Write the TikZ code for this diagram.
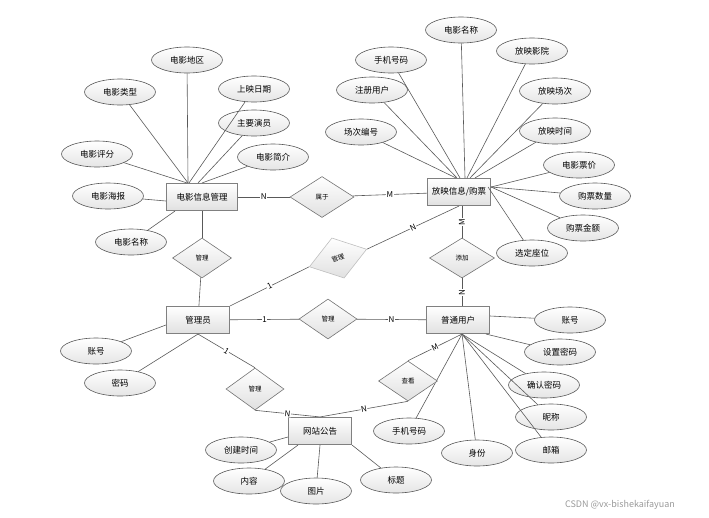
\documentclass[tikz,border=0pt]{standalone}
\usepackage{fontspec}
\newfontfamily\cjk{Noto Sans CJK SC}
\usetikzlibrary{
  shapes.geometric
}

\begin{document}
\begin{tikzpicture}[
  x=1pt, y=-1pt,
  font=\cjk\fontsize{8.5}{10}\selectfont,
  entity/.style={
    rectangle, draw=black!50, line width=1.1pt,
    top color=white, bottom color=black!12,
    minimum width=63pt, minimum height=27pt, inner sep=0pt
  },
  attr/.style={
    ellipse, draw=black!65, line width=0.6pt,
    top color=white, bottom color=black!10,
    minimum width=71pt, minimum height=26pt, inner sep=0pt
  },
  rel/.style={
    diamond, draw=black!55, line width=0.6pt,
    top color=white, bottom color=black!12,
    minimum width=59pt, minimum height=40pt, inner sep=0pt,
    font=\cjk\fontsize{6.5}{8}\selectfont
  },
  link/.style={draw=black!65, line width=0.6pt},
  card/.style={fill=white, inner sep=0.6pt, font=\cjk\fontsize{8}{9}\selectfont},
]
\useasboundingbox (0,0) rectangle (709,517);

% Movie info entity
\node[entity, minimum width=71pt] (film) at (202,197) {电影信息管理};
\node[attr] (f_area)   at (187,60)  {电影地区};
\node[attr] (f_type)   at (120,92)  {电影类型};
\node[attr] (f_date)   at (254,89)  {上映日期};
\node[attr] (f_cast)   at (254,123) {主要演员};
\node[attr] (f_score)  at (97,154)  {电影评分};
\node[attr] (f_intro)  at (273,157) {电影简介};
\node[attr] (f_poster) at (108,196) {电影海报};
\node[attr] (f_name)   at (131,242) {电影名称};
\draw[link] (f_area)   -- ([xshift=-14pt]film.north);
\draw[link] (f_type)   -- ([xshift=-14pt]film.north);
\draw[link] (f_date)   -- ([xshift=-13pt]film.north);
\draw[link] (f_score)  -- ([xshift=-15pt]film.north);
\draw[link] (f_cast)   -- ([xshift=-4pt]film.north);
\draw[link] (f_intro)  -- (film.north);
\draw[link] (f_poster) -- ([yshift=-4pt]film.west);
\draw[link] (f_name)   -- ([xshift=-27pt]film.south);

% Screening / ticket entity
\node[entity] (info) at (459,192) {放映信息/购票};
\node[attr] (i_name)   at (461,30)  {电影名称};
\node[attr] (i_phone)  at (391,60)  {手机号码};
\node[attr] (i_cinema) at (532,51)  {放映影院};
\node[attr] (i_user)   at (372,90)  {注册用户};
\node[attr] (i_show)   at (555,91)  {放映场次};
\node[attr] (i_no)     at (361,132) {场次编号};
\node[attr] (i_time)   at (555,131) {放映时间};
\node[attr] (i_price)  at (579,165) {电影票价};
\node[attr] (i_count)  at (595,196) {购票数量};
\node[attr] (i_amount) at (583,228) {购票金额};
\node[attr] (i_seat)   at (532,253) {选定座位};
\draw[link] (i_no)     -- ([xshift=-3pt]info.north);
\draw[link] (i_user)   -- ([xshift=-2pt]info.north);
\draw[link] (i_phone)  -- ([xshift=1pt]info.north);
\draw[link] (i_name)   -- ([xshift=6pt]info.north);
\draw[link] (i_cinema) -- ([xshift=8pt]info.north);
\draw[link] (i_show)   -- ([xshift=11pt]info.north);
\draw[link] (i_time)   -- ([xshift=16pt]info.north);
\draw[link] (i_price)  -- ([yshift=5pt]info.east);
\draw[link] (i_count)  -- ([yshift=5pt]info.east);
\draw[link] (i_amount) -- ([yshift=5pt]info.east);
\draw[link] (i_seat)   -- ([xshift=-3pt,yshift=5pt]info.east);

% Admin entity
\node[entity] (admin) at (198,320) {管理员};
\node[attr] (a_acc) at (96,351)  {账号};
\node[attr] (a_pwd) at (120,383) {密码};
\draw[link] (a_acc) -- ([yshift=-5pt]admin.west);
\draw[link] (a_pwd) -- (admin.south);

% User entity
\node[entity] (user) at (458,320) {普通用户};
\node[attr] (u_acc)     at (570,320) {账号};
\node[attr] (u_set)     at (560,352) {设置密码};
\node[attr] (u_confirm) at (544,385) {确认密码};
\node[attr] (u_nick)    at (551,417) {昵称};
\node[attr] (u_mail)    at (551,450) {邮箱};
\node[attr] (u_id)      at (477,453) {身份};
\node[attr] (u_phone)   at (409,431) {手机号码};
\draw[link] (u_acc)     -- ([yshift=4pt]user.east);
\draw[link] (u_set)     -- ([xshift=28pt]user.south);
\draw[link] (u_confirm) -- ([xshift=4pt]user.south);
\draw[link] (u_nick)    -- ([xshift=4pt]user.south);
\draw[link] (u_mail)    -- ([xshift=4pt]user.south);
\draw[link] (u_id)      -- ([xshift=4pt]user.south);
\draw[link] (u_phone)   -- ([xshift=4pt]user.south);

% Notice entity
\node[entity] (notice) at (320,431) {网站公告};
\node[attr] (n_time)  at (241,450) {创建时间};
\node[attr] (n_text)  at (249,481) {内容};
\node[attr] (n_pic)   at (316,491) {图片};
\node[attr] (n_title) at (396,480) {标题};
\draw[link] (n_time)  -- ([yshift=-6pt]notice.west);
\draw[link] (n_text)  -- ([xshift=-22pt]notice.south);
\draw[link] (n_pic)   -- (notice.south);
\draw[link] (n_title) -- (notice.south east);

% Relations
\node[rel, minimum width=64pt, minimum height=41pt] (belong) at (322,197) {属于};
\node[rel] (mg1) at (202,258) {管理};
\node[rel, rotate=17, draw=black!25, minimum width=60pt, minimum height=42pt] (mg2) at (338,258) {管理};
\node[rel, minimum width=65pt] (add) at (462,258) {添加};
\node[rel, minimum width=58pt] (mg4) at (328,319) {管理};
\node[rel, minimum width=58pt, minimum height=42pt] (mg3) at (255,389) {管理};
\node[rel] (view) at (408,381) {查看};

\draw[link] (film) -- node[card]{N} (belong);
\draw[link] (belong) -- node[card]{M} (info);
\draw[link] (film) -- (mg1);
\draw[link] (mg1) -- (admin);
\draw[link] (admin.north east) -- node[card, sloped]{1} (mg2.west);
\draw[link] (mg2.east) -- node[card, sloped]{N} (info.south);
\draw[link] ([xshift=3pt]info.south) -- node[card, rotate=90]{M} (add.north);
\draw[link] (add.south) -- node[card, rotate=90]{N} ([xshift=4pt]user.north);
\draw[link] (admin) -- node[card]{1} (mg4);
\draw[link] (mg4) -- node[card]{N} (user);
\draw[link] (admin.south) -- node[card, sloped]{1} (mg3.north);
\draw[link] (mg3.south) -- node[card, sloped]{N} (notice.north);
\draw[link] (notice.north) -- node[card, sloped]{N} (view.south);
\draw[link] (view.north) -- node[card, sloped]{M} ([xshift=4pt]user.south);

\node[text=black!40, font=\cjk\fontsize{9}{10}\selectfont] (mark) at (620,505) {CSDN @vx-bishekaifayuan};

\end{tikzpicture}
\end{document}
